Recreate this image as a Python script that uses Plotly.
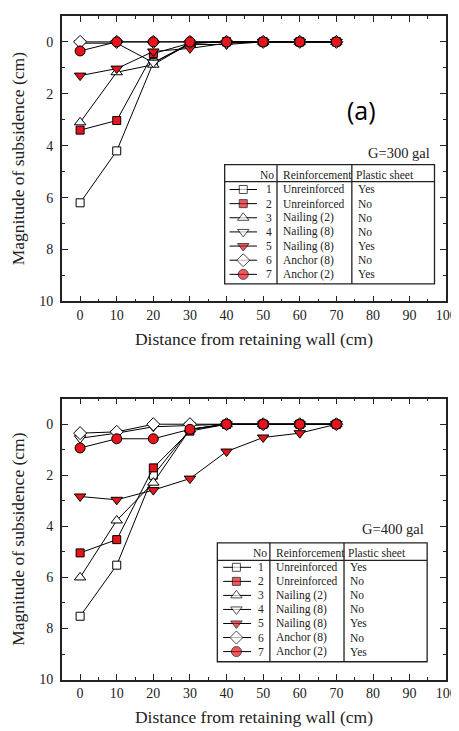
import plotly.graph_objects as go

# ---------------- data ----------------
distance = [0, 10, 20, 30, 40, 50, 60, 70]

case_no = ["1", "2", "3", "4", "5", "6", "7"]
reinforcement = ["Unreinforced", "Unreinforced", "Nailing (2)", "Nailing (8)",
                 "Nailing (8)", "Anchor (8)", "Anchor (2)"]
plastic_sheet = ["Yes", "No", "No", "No", "Yes", "No", "Yes"]

# G = 300 gal
g300_case1 = [6.2, 4.2, 0.8, 0.05, 0, 0, 0, 0]
g300_case2 = [3.4, 3.03, 0.45, 0.05, 0, 0, 0, 0]
g300_case3 = [3.1, 1.17, 0.88, 0.05, 0, 0, 0, 0]
g300_case4 = [0.05, 0.05, 0.8, 0.1, 0.1, 0, 0, 0]
g300_case5 = [1.3, 1.03, 0.37, 0.25, 0.05, 0, 0, 0]
g300_case6 = [0, 0, 0, 0, 0, 0, 0, 0]
g300_case7 = [0.35, 0, 0, 0, 0, 0, 0, 0]

# G = 400 gal
g400_case1 = [7.52, 5.52, 2.0, 0.2, 0, 0, 0, 0]
g400_case2 = [5.04, 4.52, 1.71, 0.27, 0, 0, 0, 0]
g400_case3 = [6.0, 3.77, 2.29, 0.2, 0, 0, 0, 0]
g400_case4 = [0.55, 0.35, 0.1, 0.05, 0, 0, 0, 0]
g400_case5 = [2.83, 2.96, 2.58, 2.13, 1.07, 0.52, 0.35, 0]
g400_case6 = [0.35, 0.3, 0, 0, 0, 0, 0, 0]
g400_case7 = [0.93, 0.57, 0.57, 0.2, 0, 0, 0, 0]

x_ticks = [0, 10, 20, 30, 40, 50, 60, 70, 80, 90, 100]
y_ticks = [0, 2, 4, 6, 8, 10]

# ---------------- style ----------------
W, H = 459, 731
RED = "#e8141c"
INK = "#222222"
SERIF = "Liberation Serif"
symbols = ["square", "square", "triangle-up", "triangle-down", "triangle-down", "diamond", "circle"]
fills = ["white", RED, "white", "white", RED, "white", RED]
sizes = [8, 8, 10, 10, 10, 10, 10]

fig = go.Figure()


def add_panel(series, xa, ya):
    for vals, sym, fc, sz in zip(series, symbols, fills, sizes):
        fig.add_trace(go.Scatter(
            x=distance, y=vals, mode="lines+markers", xaxis=xa, yaxis=ya,
            line=dict(color="black", width=1),
            marker=dict(symbol=sym, color=fc, size=sz, line=dict(color="black", width=1)),
            showlegend=False, cliponaxis=False, hoverinfo="x+y"))


add_panel([g300_case1, g300_case2, g300_case3, g300_case4, g300_case5, g300_case6, g300_case7], "x", "y")
add_panel([g400_case1, g400_case2, g400_case3, g400_case4, g400_case5, g400_case6, g400_case7], "x2", "y2")

# ---------------- legend tables (pixel coords on overlay axes x3/y3) ----------------
shapes = []
annotations = []


def table(left, right, top, bottom, sep1, sep2, head_line, head_y, row0, step,
          line_x0, line_x1, mark_x, num_x, reinf_x, plast_x):
    line = dict(color=INK, width=1.3)
    shapes.append(dict(type="rect", xref="x3", yref="y3", x0=left, x1=right, y0=top, y1=bottom, line=line))
    shapes.append(dict(type="line", xref="x3", yref="y3", x0=left, x1=right, y0=head_line, y1=head_line, line=line))
    shapes.append(dict(type="line", xref="x3", yref="y3", x0=sep1, x1=sep1, y0=top, y1=bottom, line=line))
    shapes.append(dict(type="line", xref="x3", yref="y3", x0=sep2, x1=sep2, y0=top, y1=bottom, line=line))
    f = dict(family=SERIF, size=11.5, color=INK)
    annotations.append(dict(xref="x3", yref="y3", x=sep1 - 1, y=head_y, text="No", showarrow=False,
                            xanchor="right", yanchor="middle", font=f))
    annotations.append(dict(xref="x3", yref="y3", x=reinf_x, y=head_y, text="Reinforcement", showarrow=False,
                            xanchor="left", yanchor="middle", font=f))
    annotations.append(dict(xref="x3", yref="y3", x=plast_x - 2, y=head_y, text="Plastic sheet", showarrow=False,
                            xanchor="left", yanchor="middle", font=f))
    for i in range(len(case_no)):
        yy = row0 + i * step
        annotations.append(dict(xref="x3", yref="y3", x=num_x, y=yy, text=case_no[i], showarrow=False,
                                xanchor="left", yanchor="middle", font=f))
        annotations.append(dict(xref="x3", yref="y3", x=reinf_x, y=yy, text=reinforcement[i], showarrow=False,
                                xanchor="left", yanchor="middle", font=f))
        annotations.append(dict(xref="x3", yref="y3", x=plast_x, y=yy, text=plastic_sheet[i], showarrow=False,
                                xanchor="left", yanchor="middle", font=f))
        fig.add_trace(go.Scatter(
            x=[line_x0, mark_x, line_x1], y=[yy, yy, yy], mode="lines+markers", xaxis="x3", yaxis="y3",
            line=dict(color="black", width=1),
            marker=dict(symbol=symbols[i], color=fills[i], size=[0, sizes[i], 0],
                        line=dict(color="black", width=[0, 1, 0])),
            showlegend=False, hoverinfo="skip", cliponaxis=False))


table(221.5, 436, 158.3, 279, 275, 351.5, 175.5, 168.5, 183.5, 14.3,
      226.5, 254.5, 240.5, 261.5, 279.5, 356)
table(214, 428.5, 540.7, 661, 267.7, 343.5, 558.5, 551.5, 565.5, 14.2,
      220, 248.5, 233.5, 254, 272, 348)

annotations.append(dict(xref="x3", yref="y3", x=433, y=146.5, text="G=300 gal", showarrow=False,
                        xanchor="right", yanchor="middle", font=dict(family=SERIF, size=14.5, color=INK)))
annotations.append(dict(xref="x3", yref="y3", x=427.5, y=526.5, text="G=400 gal", showarrow=False,
                        xanchor="right", yanchor="middle", font=dict(family=SERIF, size=14.5, color=INK)))
annotations.append(dict(xref="x3", yref="y3", x=361.5, y=103, text="(a)", showarrow=False,
                        xanchor="center", yanchor="middle", font=dict(family="Open Sans", size=25, color="black")))

# ---------------- axes ----------------
x_dom = [55 / W, 448 / W]
y1_dom = [1 - 296.7 / H, 1 - 8 / H]
y2_dom = [1 - 679 / H, 1 - 395 / H]

common = dict(showline=True, linecolor=INK, linewidth=1.5, mirror="allticks", ticks="inside",
              ticklen=6, tickwidth=1.3, tickcolor=INK, showgrid=False, zeroline=False,
              tickfont=dict(family=SERIF, size=14, color=INK))

xax = dict(common, range=[-5, 100], tickmode="array", tickvals=x_ticks, ticktext=[str(v) for v in x_ticks],
           minor=dict(ticks="inside", ticklen=3, tickwidth=1.2, tickcolor=INK, dtick=5, tick0=0),
           title=dict(text="Distance from retaining wall (cm)", font=dict(family=SERIF, size=17.5, color=INK),
                      standoff=11))
yax = dict(common, range=[10, -1], tickmode="array", tickvals=y_ticks, ticktext=[str(v) for v in y_ticks],
           minor=dict(ticks="inside", ticklen=3, tickwidth=1.2, tickcolor=INK, dtick=1, tick0=0),
           ticklabelstandoff=4,
           title=dict(text="Magnitude of subsidence (cm)", font=dict(family=SERIF, size=17.5, color=INK),
                      standoff=10))

fig.update_layout(
    width=W, height=H, margin=dict(l=0, r=0, t=0, b=0),
    font=dict(family=SERIF),
    paper_bgcolor="white", plot_bgcolor="rgba(0,0,0,0)",
    xaxis=dict(xax, domain=x_dom, anchor="y"),
    yaxis=dict(yax, domain=y1_dom, anchor="x"),
    xaxis2=dict(xax, domain=x_dom, anchor="y2"),
    yaxis2=dict(yax, domain=y2_dom, anchor="x2"),
    xaxis3=dict(domain=[0, 1], range=[0, W], visible=False, anchor="y3", fixedrange=True),
    yaxis3=dict(domain=[0, 1], range=[H, 0], visible=False, anchor="x3", fixedrange=True),
    shapes=shapes, annotations=annotations, showlegend=False,
)

fig.write_html("out.html")
